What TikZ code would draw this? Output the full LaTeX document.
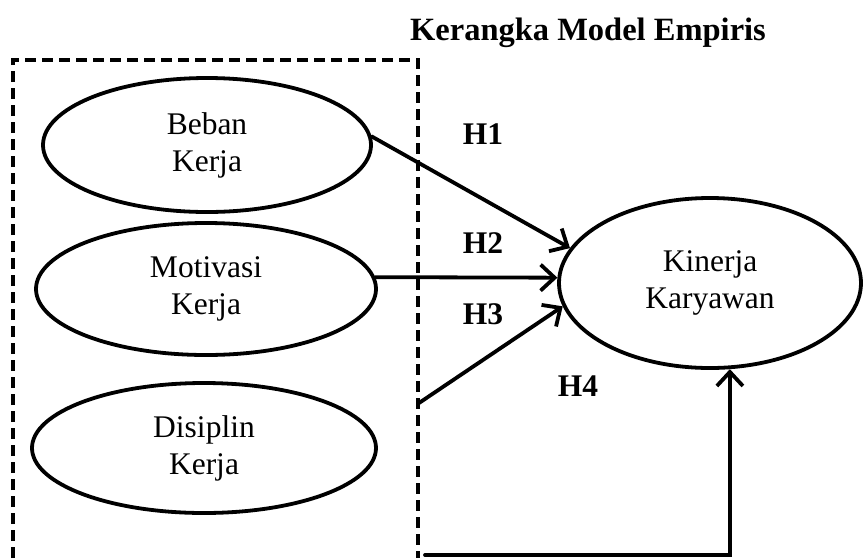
\documentclass[tikz,border=0pt]{standalone}
\usepackage{fontspec}
\setmainfont{Liberation Serif}
\usetikzlibrary{shapes.geometric,arrows.meta}
\begin{document}
\begin{tikzpicture}[x=1pt,y=-1pt,
  var/.style={ellipse,draw,line width=3.8pt,inner sep=0pt,align=center,
    font=\fontsize{31.5}{37}\selectfont},
  hlabel/.style={font=\fontsize{31.5}{37}\selectfont\bfseries},
  link/.style={line width=3.8pt,line cap=round,line join=miter,
    -{Straight Barb[length=14pt,width=26pt,line width=3.8pt]}},
  dashbox/.style={line width=3.8pt,dash pattern=on 11pt off 6pt}]
\useasboundingbox (0,0) rectangle (863,558);
\node[hlabel,font=\fontsize{32.5}{37}\selectfont\bfseries] (title) at (588,33) {Kerangka Model Empiris};
\draw[dashbox] (13,558) -- (13,60) -- (418,60) -- (418,558);
\node[var,minimum width=328pt,minimum height=134pt] (beban) at (207,145) {Beban\\Kerja};
\node[var,minimum width=340pt,minimum height=132pt] (motivasi) at (206,289) {Motivasi\\Kerja};
\node[var,minimum width=344pt,minimum height=130pt] (disiplin) at (204,448) {Disiplin\\Kerja};
\node[var,minimum width=302pt,minimum height=170pt] (kinerja) at (710,283) {Kinerja\\Karyawan};
\coordinate (h3start) at (419,403);
\coordinate (h4start) at (425,555);
\draw[link] (beban.3) -- (kinerja.166);
\draw[link] (motivasi.4) -- (kinerja.178);
\draw[link] (h3start) -- (kinerja.189);
\draw[link] (h4start) -| (kinerja.283);
\node[hlabel] (h1) at (483,134) {H1};
\node[hlabel] (h2) at (483,243) {H2};
\node[hlabel] (h3) at (483,314) {H3};
\node[hlabel] (h4) at (578,386) {H4};
\end{tikzpicture}
\end{document}
